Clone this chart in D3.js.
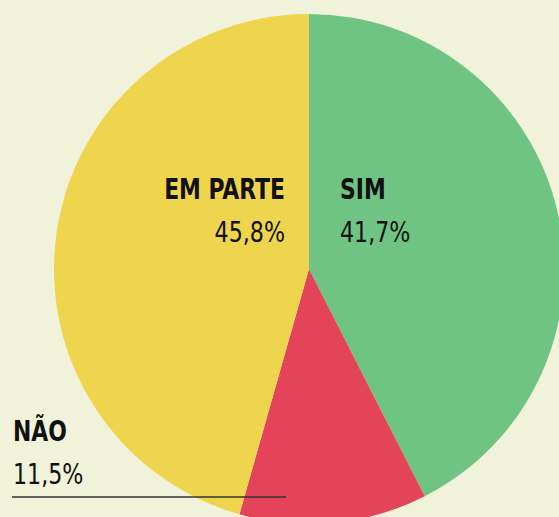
<!DOCTYPE html>
<html>
<head>
<meta charset="utf-8">
<style>
  body { margin: 0; background: #f0f2da; }
  svg { display: block; }
  .lbl { font-family: "DejaVu Sans", sans-serif; font-stretch: condensed; font-size: 29px; fill: #111; }
  .bold { font-weight: bold; }
</style>
</head>
<body>
<svg id="chart"></svg>
<script src="https://cdn.jsdelivr.net/npm/d3@7"></script>
<script>
// data
var categories = ['SIM', 'NÃO', 'EM PARTE'];
var valueLabels = ['41,7%', '11,5%', '45,8%'];
// slice shares as drawn in the picture (clockwise from 12 o'clock)
var shares = [42.5, 11.9, 45.6];
var colors = ['#70c483', '#e4445a', '#efd54e'];

var width = 559, height = 517;
var cx = 309, cy = 269, radius = 255;

var svg = d3.select('#chart')
    .attr('width', width)
    .attr('height', height);

svg.append('rect')
    .attr('width', width)
    .attr('height', height)
    .attr('fill', '#f0f2da');

var pie = d3.pie().sort(null).value(d => d);
var arc = d3.arc().innerRadius(0).outerRadius(radius);

var g = svg.append('g')
    .attr('transform', `translate(${cx}, ${cy})`);

g.selectAll('path')
    .data(pie(shares))
    .enter()
    .append('path')
        .attr('d', arc)
        .attr('fill', (d, i) => colors[i]);

// labels (narrow type: squeeze horizontally)
var labels = [
    {i: 2, x: 285, y: 199, anchor: 'end'},
    {i: 0, x: 340, y: 199, anchor: 'start'},
    {i: 1, x: 13, y: 441, anchor: 'start'}
];

labels.forEach(function(l) {
    svg.append('text')
        .attr('class', 'lbl bold')
        .attr('transform', `translate(${l.x}, ${l.y}) scale(0.84, 1)`)
        .attr('text-anchor', l.anchor)
        .text(categories[l.i]);
    svg.append('text')
        .attr('class', 'lbl')
        .attr('transform', `translate(${l.x}, ${l.y + 43}) scale(0.85, 1)`)
        .attr('text-anchor', l.anchor)
        .text(valueLabels[l.i]);
});

// underline for the outside label
svg.append('line')
    .attr('x1', 12)
    .attr('x2', 286)
    .attr('y1', 497)
    .attr('y2', 497)
    .attr('stroke', '#333')
    .attr('stroke-width', 1.5);
</script>
</body>
</html>
